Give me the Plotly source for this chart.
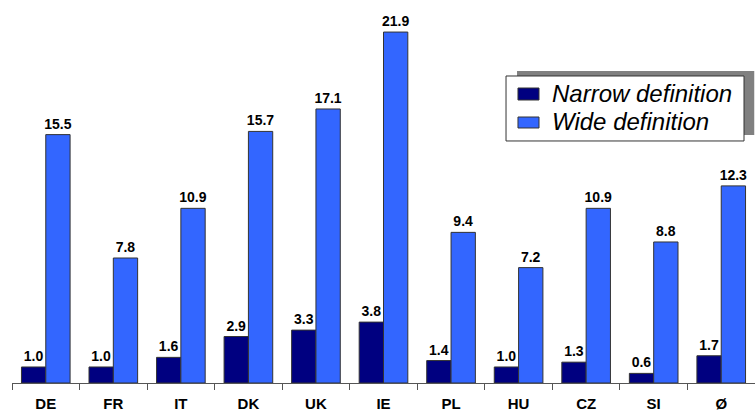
import plotly.graph_objects as go

categories = ["DE", "FR", "IT", "DK", "UK", "IE", "PL", "HU", "CZ", "SI", "Ø"]
narrow = [1.0, 1.0, 1.6, 2.9, 3.3, 3.8, 1.4, 1.0, 1.3, 0.6, 1.7]
wide = [15.5, 7.8, 10.9, 15.7, 17.1, 21.9, 9.4, 7.2, 10.9, 8.8, 12.3]
series_names = ["Narrow definition", "Wide definition"]
series_colors = ["#000080", "#3366FF"]

FONT = "Liberation Sans, Arial, sans-serif"

fig = go.Figure()
for name, vals, col in zip(series_names, [narrow, wide], series_colors):
    fig.add_trace(go.Bar(
        x=categories, y=vals, name=name,
        marker=dict(color=col, line=dict(color="#333333", width=1)),
        text=[f"{v:.1f}" for v in vals], textposition="outside",
        constraintext="none",
        textfont=dict(family=FONT, size=14, color="black", weight="bold"),
        cliponaxis=False, showlegend=False,
    ))

# hand-drawn legend (paper coordinates)
shapes = [
    dict(type="rect", xref="paper", yref="paper", x0=0.6797, x1=0.999, y0=0.6475, y1=0.8146,
         fillcolor="#808080", line=dict(width=0)),
    dict(type="rect", xref="paper", yref="paper", x0=0.6649, x1=0.9852, y0=0.6319, y1=0.8016,
         fillcolor="white", line=dict(color="#333333", width=1)),
    dict(type="rect", xref="paper", yref="paper", x0=0.681, x1=0.7093, y0=0.7389, y1=0.7702,
         fillcolor=series_colors[0], line=dict(color="#333333", width=1)),
    dict(type="rect", xref="paper", yref="paper", x0=0.681, x1=0.7093, y0=0.6658, y1=0.6945,
         fillcolor=series_colors[1], line=dict(color="#333333", width=1)),
]
annotations = [
    dict(xref="paper", yref="paper", x=0.7241, y=yy, xanchor="left", yanchor="middle",
         text=f"<i>{nm}</i>", showarrow=False,
         font=dict(family=FONT, size=24, color="black"))
    for nm, yy in zip(series_names, [0.7546, 0.6815])
]

fig.update_layout(
    width=755, height=417,
    margin=dict(l=12, r=0, t=0, b=34),
    paper_bgcolor="white", plot_bgcolor="white",
    barmode="group", bargap=0.28, bargroupgap=0,
    shapes=shapes, annotations=annotations,
    xaxis=dict(
        showline=True, linecolor="#555555", linewidth=1,
        ticks="outside", tickson="boundaries", ticklen=6, tickcolor="#555555",
        tickfont=dict(family=FONT, size=15, color="black", weight="bold"),
        ticklabelstandoff=7,
    ),
    yaxis=dict(range=[0, 23.9], visible=False, showgrid=False),
)

fig.write_html("out.html")
